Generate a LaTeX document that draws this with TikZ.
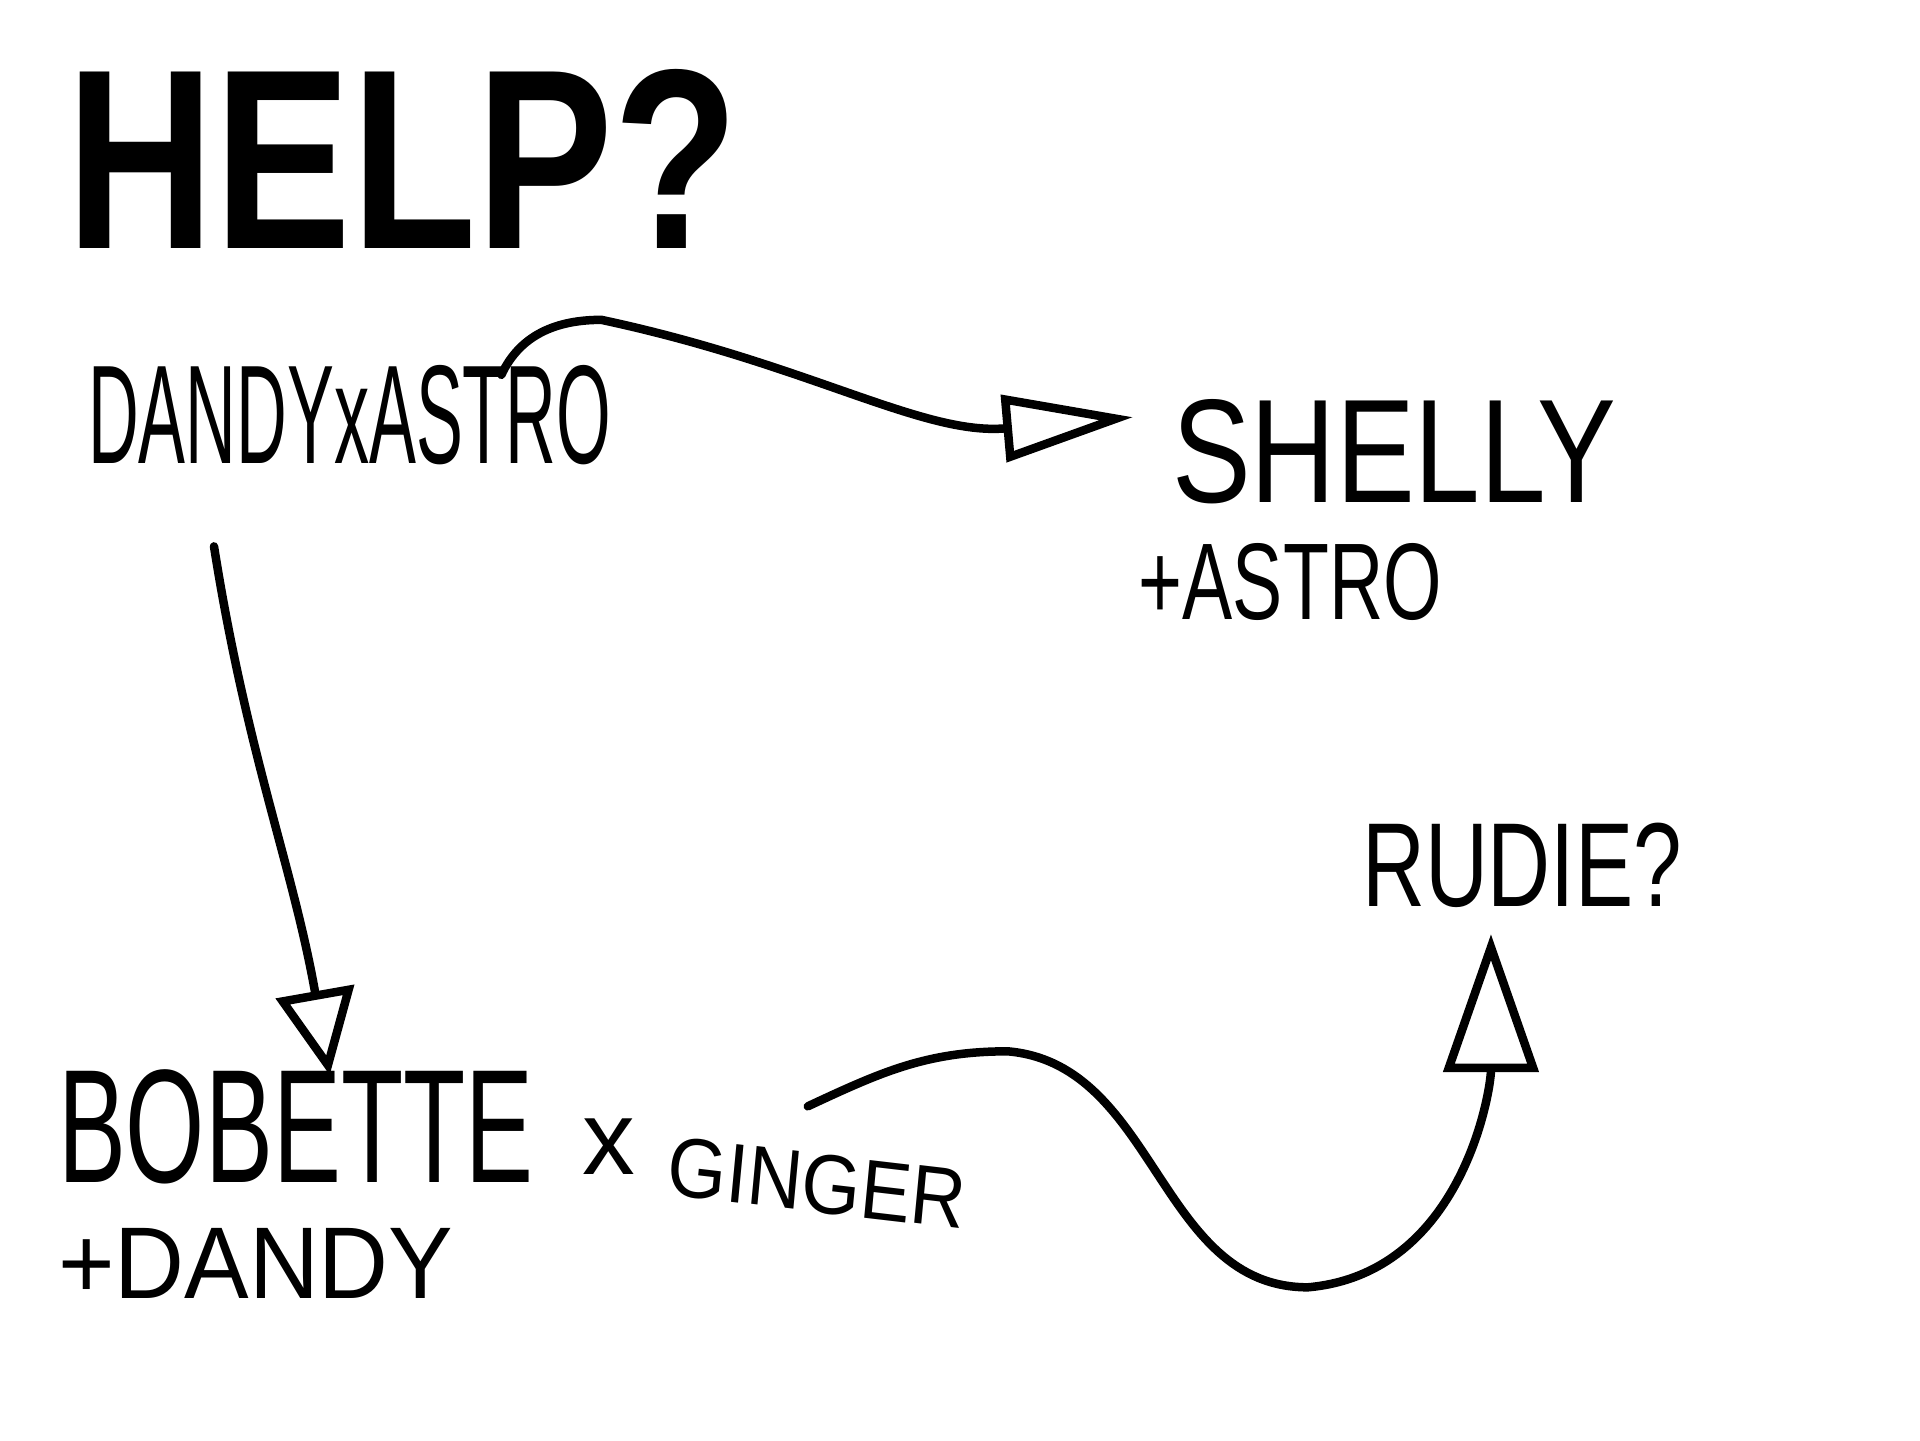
\documentclass[tikz,border=0pt]{standalone}
\usepackage{fontspec}
\newfontfamily\handfont{Liberation Sans}
\usetikzlibrary{arrows.meta, positioning}
\tikzset{
  scrawl/.style={inner sep=0pt, outer sep=0pt, font=\handfont},
  shout/.style={scrawl, font=\handfont\bfseries\fontsize{73pt}{73pt}\selectfont, xscale=0.8},
  arrow/.style={-{Triangle[open, #1]}, line width=0.85mm, line cap=round, line join=round},
  arrow/.default={length=1cm, width=8mm},
}
\begin{document}
\begin{tikzpicture}

  \fill[white] (0,0) rectangle (19.2,-14.4);
  \useasboundingbox (0,0) rectangle (19.2,-14.4);

  % Title
  \node[shout, anchor=base west] (help) at (0.66,-2.48) {HELP?};

  % Names
  \node[scrawl, font=\handfont\fontsize{40pt}{40pt}\selectfont, xscale=0.5, anchor=base west] (dandy) at (0.88,-4.63) {DANDYxASTRO};
  \node[scrawl, font=\handfont\fontsize{42pt}{42pt}\selectfont, xscale=0.8, anchor=base west] (shelly) at (11.72,-5.02) {SHELLY};
  \node[scrawl, font=\handfont\fontsize{31pt}{31pt}\selectfont, xscale=0.69, below=4mm of shelly.south west, anchor=north west, xshift=-4.8mm] (shellyplus) {+ASTRO};
  \node[scrawl, font=\handfont\fontsize{34pt}{34pt}\selectfont, xscale=0.73, anchor=base west] (rudie) at (13.62,-9.06) {RUDIE?};
  \node[scrawl, font=\handfont\fontsize{46pt}{46pt}\selectfont, xscale=0.63, anchor=base west] (bobette) at (0.58,-11.82) {BOBETTE};
  \node[scrawl, font=\handfont\fontsize{30pt}{30pt}\selectfont] (cross) at (6.09,-11.47) {x};
  \node[scrawl, font=\handfont\fontsize{24pt}{24pt}\selectfont, xscale=0.9, rotate=-6] (ginger) at (8.17,-11.83) {GINGER};
  \node[scrawl, font=\handfont\fontsize{29pt}{29pt}\selectfont, xscale=0.95, below=4.5mm of bobette.south west, anchor=north west] (bobetteplus) {+DANDY};

  % Connectors
  \draw[arrow={length=13mm, width=6.6mm}] ([xshift=-1.1cm, yshift=-1mm]dandy.north east)
    to[out=65, in=180] ++(1.0,0.55) to[out=-12, in=185] ([xshift=-3.9mm, yshift=3.4mm]shelly.west);
  \draw[arrow={length=8.5mm, width=7.8mm}] ([xshift=1.26cm, yshift=-8.2mm]dandy.south west)
    to[out=-81, in=100] ([xshift=3.4mm, yshift=-0.6mm]bobette.north);
  \draw[arrow={length=13.8mm, width=9.4mm}] ([xshift=-1.2mm, yshift=4.7mm]ginger.north)
    to[out=25, in=180] ++(2.0,0.55) to[out=-5, in=180] ++(3.0,-2.36)
    to[out=5, in=-90] ([xshift=-3.1mm, yshift=-2.7mm]rudie.south);

\end{tikzpicture}
\end{document}
